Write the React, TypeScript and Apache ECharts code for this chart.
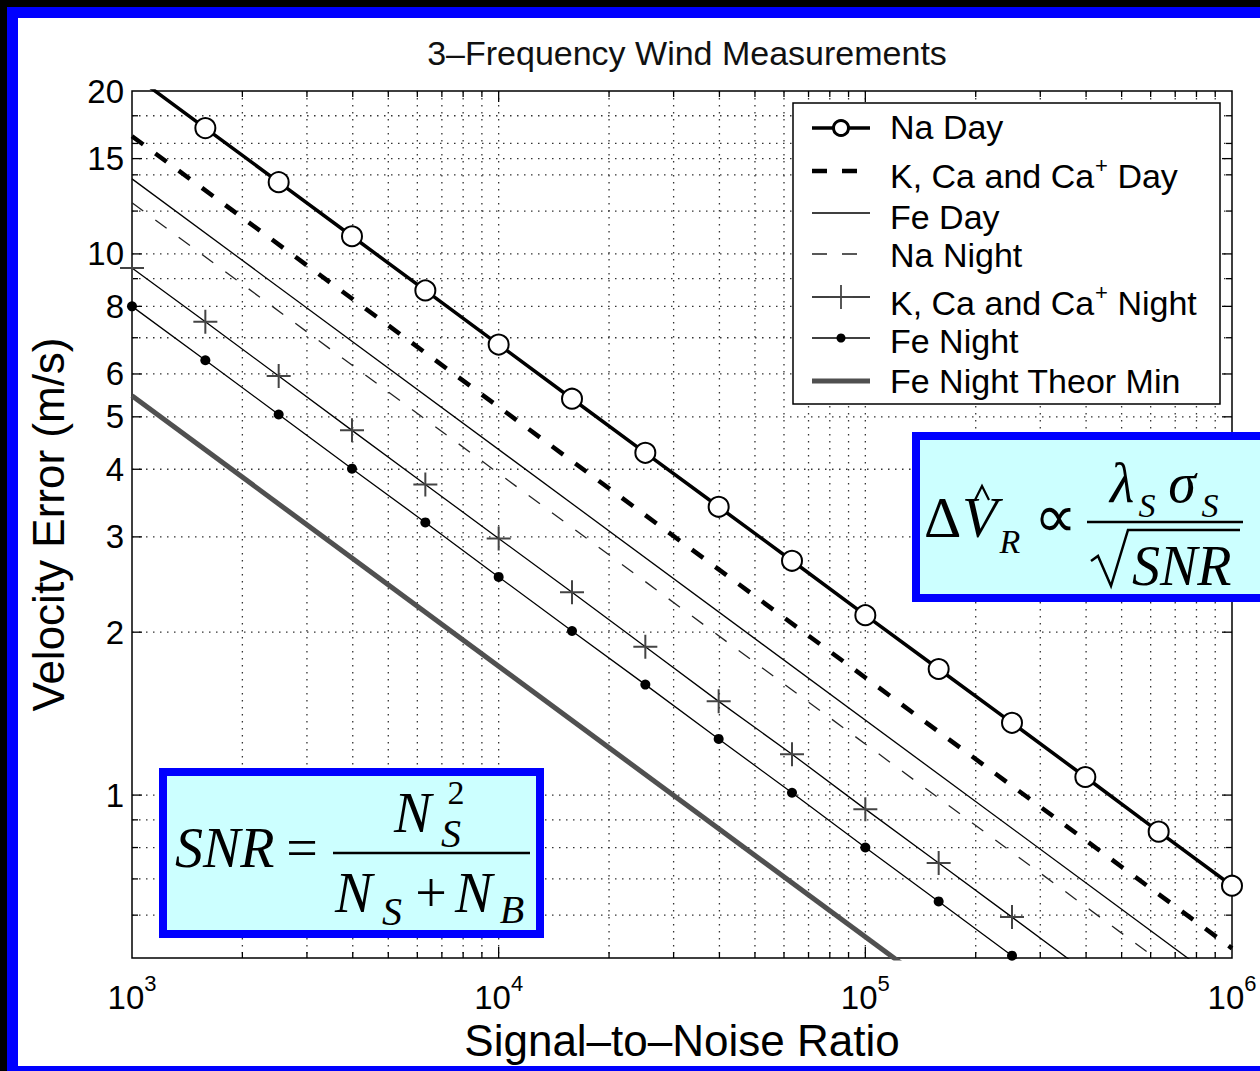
import React, { useEffect, useRef } from "react";
import * as echarts from "echarts";

const TITLE = "3–Frequency Wind Measurements";
const X_NAME = "Signal–to–Noise Ratio";
const Y_NAME = "Velocity Error (m/s)";

const X_MIN = 1000;
const X_MAX = 1000000;
const Y_MIN = 0.5;
const Y_MAX = 20;

// marker positions (0.2 decade steps)
const SNR = [1000, 1585, 2512, 3981, 6310, 10000, 15849, 25119, 39811, 63096, 100000, 158489, 251189, 398107, 630957, 1000000];
const NA_DAY = [21.5, 17.08, 13.57, 10.78, 8.56, 6.8, 5.4, 4.29, 3.41, 2.71, 2.15, 1.71, 1.36, 1.08, 0.856, 0.68];
const K_CA_NIGHT = [9.42, 7.49, 5.95, 4.72, 3.75, 2.98, 2.37, 1.88, 1.49, 1.19, 0.942, 0.749, 0.595, 0.472, 0.375, 0.298];
const FE_NIGHT = [8.0, 6.36, 5.05, 4.01, 3.19, 2.53, 2.01, 1.6, 1.27, 1.01, 0.8, 0.636, 0.505, 0.401, 0.319, 0.253];

// plain lines: values at the two ends of the x range
const ENDS = [1000, 1000000];
const K_CA_DAY = [16.5, 0.521];
const FE_DAY = [13.76, 0.435];
const NA_NIGHT = [12.43, 0.393];
const FE_THEOR = [5.47, 0.173];

const X_TICKS = [1000, 10000, 100000, 1000000];
const X_GRID = [2000, 3000, 4000, 5000, 6000, 7000, 8000, 9000, 10000, 20000, 30000, 40000, 50000, 60000, 70000, 80000, 90000, 100000, 200000, 300000, 400000, 500000, 600000, 700000, 800000, 900000];
const Y_TICKS = [1, 2, 3, 4, 5, 6, 8, 10, 15, 20];
const Y_GRID = [0.6, 0.7, 0.8, 0.9, 1, 2, 3, 4, 5, 6, 7, 8, 9, 10, 12, 14, 15, 16, 18];

const LEGEND_NAMES = ["Na Day", "K, Ca and Ca+ Day", "Fe Day", "Na Night", "K, Ca and Ca+ Night", "Fe Night", "Fe Night Theor Min"];

const SANS = "Liberation Sans";
const SERIF = "Liberation Serif";
const BLUE = "#0000ff";
const CYAN = "#ccffff";
const GRID_COLOR = "#333";

const pairs = (xs: number[], ys: number[]) => xs.map((x, i) => [x, ys[i]]);

function renderXGrid(params: any, api: any) {
  const cs = params.coordSys;
  const v = api.value(0);
  const x = api.coord([v, Y_MIN])[0];
  const lg = Math.log10(v);
  const major = Math.abs(lg - Math.round(lg)) < 1e-6;
  const len = major ? 11 : 6;
  const top = cs.y;
  const bottom = cs.y + cs.height;
  return {
    type: "group",
    children: [
      { type: "line", shape: { x1: x, y1: top, x2: x, y2: bottom }, style: { stroke: GRID_COLOR, lineWidth: 1.3, lineDash: [1.5, 5.5] } },
      { type: "line", shape: { x1: x, y1: bottom, x2: x, y2: bottom - len }, style: { stroke: "#000", lineWidth: 1.3 } },
      { type: "line", shape: { x1: x, y1: top, x2: x, y2: top + len }, style: { stroke: "#000", lineWidth: 1.3 } },
    ],
  };
}

function renderYGrid(params: any, api: any) {
  const cs = params.coordSys;
  const v = api.value(1);
  const y = api.coord([X_MIN, v])[1];
  const major = Y_TICKS.indexOf(v) >= 0;
  const len = major ? 10 : 6;
  const left = cs.x;
  const right = cs.x + cs.width;
  return {
    type: "group",
    children: [
      { type: "line", shape: { x1: left, y1: y, x2: right, y2: y }, style: { stroke: GRID_COLOR, lineWidth: 1.3, lineDash: [1.5, 5.5] } },
      { type: "line", shape: { x1: left, y1: y, x2: left + len, y2: y }, style: { stroke: "#000", lineWidth: 1.3 } },
      { type: "line", shape: { x1: right, y1: y, x2: right - len, y2: y }, style: { stroke: "#000", lineWidth: 1.3 } },
    ],
  };
}

// text helper: y is the baseline
function mtext(x: number, baseline: number, text: string, size: number, italic: boolean, align = "left", family = SERIF) {
  return {
    type: "text",
    z: 120,
    x,
    y: baseline - 0.34 * size,
    style: {
      text,
      font: `${italic ? "italic " : ""}${size}px "${family}"`,
      fill: "#000",
      align,
      textAlign: align,
      verticalAlign: "middle",
      textVerticalAlign: "middle",
    },
  };
}

function hline(x1: number, y1: number, x2: number, y2: number, width: number, color = "#000", dash?: number[]) {
  return {
    type: "line",
    z: 120,
    shape: { x1, y1, x2, y2 },
    style: { stroke: color, lineWidth: width, lineDash: dash },
  };
}

function legendText(y: number, name: string) {
  const plus = name.indexOf("Ca+");
  const rich = {
    n: { fontSize: 34, fontFamily: SANS, lineHeight: 44, fill: "#000", color: "#000" },
    sup: { fontSize: 22, fontFamily: SANS, lineHeight: 44, verticalAlign: "top", fill: "#000", color: "#000", padding: [0, 0, 0, 1] },
  };
  let text = `{n|${name}}`;
  if (plus >= 0) {
    text = `{n|${name.slice(0, plus + 2)}}{sup|+}{n|${name.slice(plus + 3)}}`;
  }
  return {
    type: "text",
    z: 120,
    x: 890,
    y,
    style: { text, rich, font: `34px "${SANS}"`, fill: "#000", align: "left", textAlign: "left", verticalAlign: "middle", textVerticalAlign: "middle" },
  };
}

function buildGraphic() {
  const els: any[] = [];
  // legend box
  els.push({ type: "rect", z: 110, shape: { x: 793, y: 103, width: 427, height: 301 }, style: { fill: "#fff", stroke: "#000", lineWidth: 1.5 } });
  const x1 = 812, x2 = 870, xc = 841;
  const rowsLine = [128, 171, 213, 254, 297, 338, 381];
  const rowsText = [127, 176, 217, 255, 303, 341, 381];
  els.push(hline(x1, rowsLine[0], x2, rowsLine[0], 3.5));
  els.push({ type: "circle", z: 121, shape: { cx: xc, cy: rowsLine[0], r: 7.5 }, style: { fill: "#fff", stroke: "#000", lineWidth: 3 } });
  els.push(hline(x1, rowsLine[1], x2, rowsLine[1], 4.5, "#000", [15, 15]));
  els.push(hline(x1, rowsLine[2], x2, rowsLine[2], 1.3));
  els.push(hline(x1, rowsLine[3], x2, rowsLine[3], 1.3, "#222", [15, 15]));
  els.push(hline(x1, rowsLine[4], x2, rowsLine[4], 1.3));
  els.push(hline(xc, rowsLine[4] - 12, xc, rowsLine[4] + 12, 1.8, "#444"));
  els.push(hline(xc - 12, rowsLine[4], xc + 12, rowsLine[4], 1.8, "#444"));
  els.push(hline(x1, rowsLine[5], x2, rowsLine[5], 1.3));
  els.push({ type: "circle", z: 121, shape: { cx: xc, cy: rowsLine[5], r: 4.5 }, style: { fill: "#000" } });
  els.push(hline(x1, rowsLine[6], x2, rowsLine[6], 5, "#505050"));
  LEGEND_NAMES.forEach((n, i) => els.push(legendText(rowsText[i], n)));

  // SNR formula box
  els.push({ type: "rect", z: 110, shape: { x: 159, y: 768, width: 385, height: 170 }, style: { fill: BLUE } });
  els.push({ type: "rect", z: 111, shape: { x: 167, y: 776, width: 369, height: 154 }, style: { fill: CYAN } });
  els.push(mtext(175, 867, "SNR", 56, true));
  els.push(mtext(302, 867, "=", 56, false, "center"));
  els.push(hline(333, 853, 530, 853, 2.5));
  els.push(mtext(394, 832, "N", 56, true));
  els.push(mtext(456, 804, "2", 34, false, "center"));
  els.push(mtext(451, 847, "S", 40, true, "center"));
  els.push(mtext(335, 912, "N", 56, true));
  els.push(mtext(392, 925, "S", 40, true, "center"));
  els.push(mtext(431, 912, "+", 56, false, "center"));
  els.push(mtext(455, 912, "N", 56, true));
  els.push(mtext(512, 923, "B", 40, true, "center"));

  // velocity error formula box
  els.push({ type: "rect", z: 110, shape: { x: 912, y: 432, width: 360, height: 170 }, style: { fill: BLUE } });
  els.push({ type: "rect", z: 111, shape: { x: 920, y: 440, width: 360, height: 154 }, style: { fill: CYAN } });
  els.push(mtext(924, 537, "Δ", 58, false));
  els.push(mtext(962, 537, "V", 58, true));
  els.push({ type: "polyline", z: 121, shape: { points: [[975, 500], [982, 486], [989, 500]] }, style: { stroke: "#000", lineWidth: 2.2, fill: "none" } });
  els.push(mtext(1010, 553, "R", 34, true, "center"));
  els.push(mtext(1055, 537, "∝", 60, false, "center"));
  els.push(hline(1087, 522, 1243, 522, 2.5));
  els.push(mtext(1122, 502, "λ", 56, true, "center"));
  els.push(mtext(1147, 517, "S", 34, true, "center"));
  els.push(mtext(1182, 502, "σ", 56, true, "center"));
  els.push(mtext(1210, 517, "S", 34, true, "center"));
  els.push({ type: "polyline", z: 121, shape: { points: [[1091, 561], [1098, 556], [1111, 586], [1128, 530], [1240, 530]] }, style: { stroke: "#000", lineWidth: 2.5, fill: "none" } });
  els.push(mtext(1132, 585, "SNR", 56, true));
  return els;
}

export default function App() {
  const ref = useRef<HTMLDivElement>(null);
  useEffect(() => {
    const chart = echarts.init(ref.current as HTMLDivElement, null, { renderer: "svg" });
    const option: any = {
      animation: false,
      backgroundColor: "transparent",
      textStyle: { fontFamily: SANS },
      title: {
        text: TITLE,
        left: 682,
        top: 31,
        textAlign: "center",
        textStyle: { fontSize: 34, fontWeight: "normal", color: "#111", fontFamily: SANS },
      },
      grid: { left: 132, top: 91, width: 1100, height: 867, show: true, borderColor: "#000", borderWidth: 1.5, backgroundColor: "transparent" },
      xAxis: {
        type: "log",
        logBase: 10,
        min: X_MIN,
        max: X_MAX,
        name: X_NAME,
        nameLocation: "middle",
        nameGap: 56,
        nameTextStyle: { fontSize: 44, color: "#000", fontFamily: SANS },
        axisLine: { show: false },
        axisTick: { show: false },
        splitLine: { show: false },
        minorTick: { show: false },
        axisLabel: {
          customValues: X_TICKS,
          margin: 14,
          formatter: (v: number) => `{b|10}{s|${Math.round(Math.log10(v))}}`,
          rich: {
            b: { fontSize: 33, lineHeight: 50, color: "#000", fontFamily: SANS },
            s: { fontSize: 22, lineHeight: 22, verticalAlign: "top", color: "#000", fontFamily: SANS },
          },
        },
      },
      yAxis: {
        type: "log",
        logBase: 10,
        min: Y_MIN,
        max: Y_MAX,
        name: Y_NAME,
        nameLocation: "middle",
        nameGap: 62,
        nameTextStyle: { fontSize: 44, color: "#000", fontFamily: SANS },
        axisLine: { show: false },
        axisTick: { show: false },
        splitLine: { show: false },
        minorTick: { show: false },
        axisLabel: { customValues: Y_TICKS, fontSize: 33, color: "#000", margin: 8, fontFamily: SANS },
      },
      graphic: { elements: buildGraphic() },
      series: [
        { type: "custom", name: "xgrid", silent: true, z: 1, clip: false, data: X_GRID.map((v) => [v, Y_MIN]), encode: { x: 0, y: 1 }, renderItem: renderXGrid },
        { type: "custom", name: "ygrid", silent: true, z: 1, clip: false, data: Y_GRID.map((v) => [X_MIN, v]), encode: { x: 0, y: 1 }, renderItem: renderYGrid },
        { type: "line", name: LEGEND_NAMES[6], z: 3, clip: true, showSymbol: false, data: pairs(ENDS, FE_THEOR), lineStyle: { color: "#505050", width: 5 }, itemStyle: { color: "#505050" } },
        { type: "line", name: LEGEND_NAMES[5], z: 3, clip: true, symbol: "circle", symbolSize: 10, data: pairs(SNR, FE_NIGHT), lineStyle: { color: "#000", width: 1.3 }, itemStyle: { color: "#000" } },
        { type: "line", name: LEGEND_NAMES[4], z: 3, clip: true, symbol: "path://M11,0H13V11H24V13H13V24H11V13H0V11H11Z", symbolSize: 24, data: pairs(SNR, K_CA_NIGHT), lineStyle: { color: "#000", width: 1.3 }, itemStyle: { color: "#444" } },
        { type: "line", name: LEGEND_NAMES[3], z: 3, clip: true, showSymbol: false, data: pairs(ENDS, NA_NIGHT), lineStyle: { color: "#222", width: 1.3, type: [14, 15] } },
        { type: "line", name: LEGEND_NAMES[2], z: 3, clip: true, showSymbol: false, data: pairs(ENDS, FE_DAY), lineStyle: { color: "#000", width: 1.3 } },
        { type: "line", name: LEGEND_NAMES[1], z: 3, clip: true, showSymbol: false, data: pairs(ENDS, K_CA_DAY), lineStyle: { color: "#000", width: 4.5, type: [14, 15] } },
        { type: "line", name: LEGEND_NAMES[0], z: 4, clip: true, symbol: "emptyCircle", symbolSize: 20, data: pairs(SNR, NA_DAY), lineStyle: { color: "#000", width: 3.5 }, itemStyle: { color: "#000", borderColor: "#000", borderWidth: 3 } },
      ],
    };
    chart.setOption(option);
    return () => chart.dispose();
  }, []);
  return (
    <div style={{ position: "absolute", left: 0, top: 0, width: 1260, height: 1071, background: "#000", overflow: "hidden" }}>
      <div style={{ position: "absolute", left: 7, top: 7, width: 1253, height: 1064, background: BLUE }} />
      <div style={{ position: "absolute", left: 18, top: 18, width: 1242, height: 1048, background: "#fff" }} />
      <div ref={ref} style={{ position: "absolute", left: 0, top: 0, width: 1260, height: 1071 }} />
    </div>
  );
}
